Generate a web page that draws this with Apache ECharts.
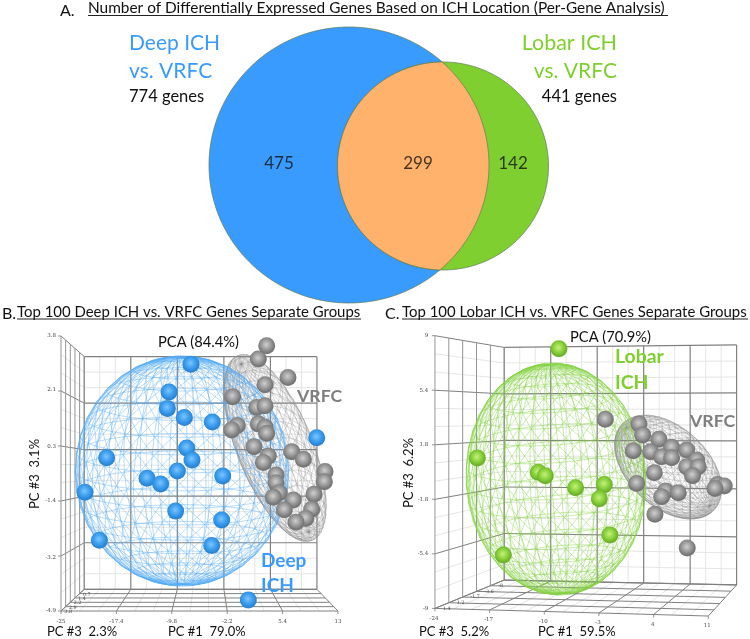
<!DOCTYPE html>
<html><head><meta charset="utf-8">
<style>html,body{margin:0;padding:0;background:#fff}#c{width:750px;height:639px;filter:blur(0.4px)}</style>
<script src="https://cdn.jsdelivr.net/npm/echarts@6/dist/echarts.min.js"></script>
</head><body><div id="c"></div>
<script>
// ---------- data ----------
const vennCounts = ['475', '299', '142'];
const vennCircles = [[149, 145, 140, 138], [243, 146, 105.5, 104]];
const vennCountPositions = [[79, 144], [218, 144], [313, 144]];

const deepXTicks = [-25, -17.4, -9.8, -2.2, 5.4, 13];
const deepYTicks = [-4.9, -3.2, -1.4, 0.3, 2.1, 3.8];
const deepZTicks = ['3.8', '2.9', '2.2', '1.4', '0.7'];
const lobarXTicks = [-24, -17, -10, -3, 4, 11];
const lobarYTicks = [-9, -5.4, -1.8, 1.8, 5.4, 9];
const lobarZTicks = ['1.4', '1.2', '-1.7', '-3.6', '-8'];

const deepIch = [[-7.17,2.91],[-10.18,2.03],[-10.41,1.51],[-8.08,1.22],[-4.24,1.08],[-7.76,0.26],[-7.03,-0.12],[-18.74,-0.05],[-9.04,-0.47],[-2.82,-0.63],[-13.2,-0.7],[-11.33,-0.88],[-21.71,-1.14],[-9.27,-1.74],[-2.96,-2.02],[-19.74,-2.66],[-4.33,-2.83],[0.7,-4.55],[10.08,0.58]];
const deepVrfc = [[3.22,3.49],[2.07,3.07],[6.14,2.49],[2.99,2.26],[-1.45,1.88],[1.84,1.54],[2.99,1.59],[-0.81,0.97],[-1.59,0.83],[2.07,1.02],[2.99,0.91],[3.22,0.72],[1.48,0.3],[6.65,0.14],[8.25,-0.1],[3.44,0],[2.76,-0.2],[11.22,-0.49],[11.13,-0.81],[4.5,-0.6],[4.5,-0.84],[9.71,-1.21],[4.95,-1.16],[4.13,-1.3],[6.87,-1.39],[5.64,-1.7],[9.39,-1.68],[8.57,-1.97],[7.24,-2.09]];
const lobarIch = [[-8.01,8.14],[-18.4,0.93],[-10.64,-0.02],[-9.75,-0.24],[-5.89,-1.03],[-2.24,-0.83],[-2.87,-1.76],[-1.52,-4.16],[-15.09,-5.48]];
const lobarVrfc = [[-2.11,3.48],[2.17,3.17],[2.64,2.44],[4.72,2.16],[1.45,1.41],[3.66,1.34],[6.33,1.63],[8.24,1.45],[5.06,1.01],[6.33,0.95],[9.51,0.79],[8.24,0.35],[9.72,0.35],[9,-0.24],[4.13,-0.04],[1.88,-0.75],[5.57,-1.25],[7.18,-1.36],[5.06,-1.63],[12.18,-0.83],[13.03,-0.92],[11.85,-1.08],[4.21,-2.79],[8.32,-5.01]];

// ellipsoids: centre x, centre y, radius x, radius y (axis units)
const deepEllipsoid = [-8.4, -0.47, 14.68, 3.64];
const deepVrfcEllipsoid = [4.36, 0.26, 5.2, 3.16];
const lobarEllipsoid = [-8.38, -0.46, 11.46, 7.66];
const lobarVrfcEllipsoid = [5.88, 0.33, 5.1, 4.16];

// ---------- text ----------
const F = 'Lato, "Open Sans", sans-serif';
const BLUE = '#3a9bff', GREEN = '#80cf30', GREY = '#7f7f7f', INK = '#111';
// text, x, y, size, colour, align, weight, rotated
const texts = [
  ['A.', 60, 11, 16, INK],
  ['Number of Differentially Expressed Genes Based on ICH Location (Per-Gene Analysis)', 88, 8, 15.4, INK],
  ['Deep ICH', 129, 43, 21, BLUE],
  ['vs. VRFC', 129, 71, 21, BLUE],
  ['774 genes', 129, 97, 16.5, INK],
  ['Lobar ICH', 617, 43, 21.5, GREEN, 'right'],
  ['vs. VRFC', 617, 71, 21, GREEN, 'right'],
  ['441 genes', 617, 97, 16.5, INK, 'right'],
  ['B.', 2, 314, 16, INK],
  ['Top 100 Deep ICH vs. VRFC Genes Separate Groups', 17, 312, 14.95, INK],
  ['C.', 385, 314, 16, INK],
  ['Top 100 Lobar ICH vs. VRFC Genes Separate Groups', 402, 312, 14.95, INK],
  ['PCA (84.4%)', 158, 342, 14.7, INK],
  ['VRFC', 297, 396, 17.7, GREY, 'left', 'bold'],
  ['Deep', 261, 561, 19, BLUE, 'left', 'bold'],
  ['ICH', 261, 586, 19, BLUE, 'left', 'bold'],
  ['PC #3  3.1%', 35, 474, 13, INK, 'center', 'normal', true],
  ['PC #3  2.3%', 47, 632, 13, INK],
  ['PC #1  79.0%', 168, 632, 13, INK],
  ['PCA (70.9%)', 570, 337, 14.7, INK],
  ['Lobar', 615, 357, 19.4, GREEN, 'left', 'bold'],
  ['ICH', 615, 383, 19.4, GREEN, 'left', 'bold'],
  ['VRFC', 690, 421, 17.7, GREY, 'left', 'bold'],
  ['PC #3  6.2%', 409, 473, 13, INK, 'center', 'normal', true],
  ['PC #3  5.2%', 419, 632, 13, INK],
  ['PC #1  59.5%', 538, 632, 13, INK]
];
const underlines = [[88, 668, 15.5], [17, 361, 319], [402, 748, 319]];

// ---------- drawing helpers ----------
const lerp = (a, b, t) => [a[0] + (b[0] - a[0]) * t, a[1] + (b[1] - a[1]) * t];
const deg = Math.PI / 180;

function ellipsePts(e, from, to, n) {
  const out = [];
  for (let i = 0; i <= n; i++) {
    const t = (from + (to - from) * i / n) * deg;
    out.push([e[0] + e[2] * Math.cos(t), e[1] + e[3] * Math.sin(t)]);
  }
  return out;
}
const inside = (p, e) => ((p[0] - e[0]) / e[2]) ** 2 + ((p[1] - e[1]) / e[3]) ** 2 <= 1;

function vennSeries() {
  return {
    type: 'custom', xAxisIndex: 0, yAxisIndex: 0, coordinateSystem: 'cartesian2d', silent: true, z: 3,
    data: [[0, 0]],
    renderItem(p, api) {
      const [blue, green] = vennCircles;
      const toPx = pts => pts.map(q => api.coord(q));
      const lens = ellipsePts(green, 90, 270, 240).filter(q => inside(q, blue))
        .concat(ellipsePts(blue, -180, 180, 480).filter(q => inside(q, green)));
      const poly = (pts, fill) => ({ type: 'polygon', shape: { points: toPx(pts) },
        style: { fill, stroke: '#5f7a55', lineWidth: 0.7 } });
      return { type: 'group', children: [
        poly(ellipsePts(blue, 0, 360, 360), BLUE),
        poly(ellipsePts(green, 0, 360, 360), GREEN),
        poly(lens, '#ffb26b')
      ] };
    }
  };
}

function vennCountSeries() {
  return {
    type: 'scatter', xAxisIndex: 0, yAxisIndex: 0, symbolSize: 0, z: 5, silent: true,
    data: vennCountPositions.map((q, i) => ({ value: q, label: { formatter: vennCounts[i] } })),
    label: { show: true, position: 'inside', color: INK, fontSize: 17, fontFamily: F }
  };
}

function cageSeries(ax, corners, xTicks, yTicks, zTicks, slopedX) {
  return {
    type: 'custom', xAxisIndex: ax, yAxisIndex: ax, coordinateSystem: 'cartesian2d', silent: true, z: 2,
    data: [[0, 0]],
    renderItem(p, api) {
      const xs = xTicks, ys = yTicks;
      const x0 = xs[0], x1 = xs[xs.length - 1], y0 = ys[0], y1 = ys[ys.length - 1];
      const px = f => api.coord([x0 + f[0] * (x1 - x0), y1 - f[1] * (y1 - y0)]);
      const c = {}; for (const k in corners) c[k] = px(corners[k]);
      const FTR = [c.FTL[0] + c.FBR[0] - c.FBL[0], c.FTL[1]];
      const back = (u, v) => lerp(lerp(c.BBL, c.BBR, u), lerp(c.BTL, c.BTR, u), v);
      const front = (u, v) => lerp(lerp(c.FBL, c.FBR, u), lerp(c.FTL, FTR, u), v);
      const P = (u, v, w) => lerp(front(u, v), back(u, v), w);
      const kids = [];
      const seg = (a, b, col, lw) => kids.push({ type: 'line', shape: { x1: a[0], y1: a[1], x2: b[0], y2: b[1] },
        style: { stroke: col, lineWidth: lw } });
      const MINOR = '#e2e2e2', MAJOR = '#808080';
      const N = 5, SUB = 3, D = 5;
      for (let i = 0; i < N * SUB; i++) {
        if (i % SUB === 0) continue;
        const t = i / (N * SUB);
        seg(P(t, 0, 1), P(t, 1, 1), MINOR, 0.9);
        seg(P(0, t, 1), P(1, t, 1), MINOR, 0.9);
        seg(P(0, t, 0), P(0, t, 1), MINOR, 0.9);
        seg(P(t, 0, 0), P(t, 0, 1), MINOR, 0.9);
      }
      for (let i = 0; i <= N; i++) {
        const t = i / N;
        seg(P(t, 0, 1), P(t, 1, 1), MAJOR, 1.2);
        seg(P(0, t, 1), P(1, t, 1), MAJOR, 1.2);
        seg(P(0, t, 0), P(0, t, 1), MAJOR, 1);
        seg(P(t, 0, 0), P(t, 0, 1), MAJOR, 1);
        const a = P(t, 0, 0); seg(a, [a[0], a[1] + 3], '#666', 0.7);
        const b = P(0, t, 0); seg(b, [b[0] - 3, b[1]], '#666', 0.7);
      }
      for (let i = 0; i <= D; i++) {
        const w = i / D;
        seg(P(0, 0, w), P(0, 1, w), '#949494', 1);
        seg(P(0, 0, w), P(1, 0, w), '#808080', 1);
        if (i < D) {
          const q = P(0, 0, w + 0.1);
          kids.push({ type: 'text', x: q[0] + 1, y: q[1] + 3,
            style: { text: zTicks[i], fontSize: 4.8, fill: '#444', fontFamily: 'DejaVu Serif', textAlign: 'left', textVerticalAlign: 'middle' } });
        }
      }
      if (slopedX) {
        xs.forEach((v, i) => {
          const a = P(i / N, 0, 0);
          kids.push({ type: 'text', x: a[0] - 1, y: a[1] + 10,
            style: { text: String(v), fontSize: 5.5, fill: '#444', fontFamily: 'DejaVu Serif', textAlign: 'center', textVerticalAlign: 'middle' } });
        });
      }
      return { type: 'group', children: kids };
    }
  };
}

function meshSeries(ax, ell, rotDeg, tiltX, tiltY, nLat, nLon, colour, lw, z) {
  return {
    type: 'custom', xAxisIndex: ax, yAxisIndex: ax, coordinateSystem: 'cartesian2d', silent: true, z,
    data: [ell],
    renderItem(p, api) {
      const c = api.coord([api.value(0), api.value(1)]);
      const s = api.size([api.value(2), api.value(3)]);
      const cr = Math.cos(rotDeg * deg), sr = Math.sin(rotDeg * deg);
      const ct = Math.cos(tiltX * deg), st = Math.sin(tiltX * deg);
      const cy = Math.cos(tiltY * deg), sy = Math.sin(tiltY * deg);
      const pt = (i, j) => {
        const lat = -90 + 180 * i / nLat, lon = 360 * j / nLon;
        const x0 = Math.cos(lat * deg) * Math.cos(lon * deg);
        const y0 = Math.sin(lat * deg);
        const z0 = Math.cos(lat * deg) * Math.sin(lon * deg);
        const x1 = x0 * cy + z0 * sy, z1 = -x0 * sy + z0 * cy;
        const y2 = y0 * ct - z1 * st;
        const X = x1 * s[0], Y = y2 * s[1];
        return [c[0] + X * cr - Y * sr, c[1] + X * sr + Y * cr];
      };
      const kids = [];
      const add = (a, b) => kids.push({ type: 'line', shape: { x1: a[0], y1: a[1], x2: b[0], y2: b[1] },
        style: { stroke: colour, lineWidth: lw } });
      for (let i = 0; i <= nLat; i++) for (let j = 0; j < nLon; j++) {
        const a = pt(i, j);
        if (i > 0 && i < nLat) add(a, pt(i, j + 1));
        if (i < nLat) {
          add(a, pt(i + 1, j));
          if (i > 0 && i < nLat - 1) add(a, pt(i + 1, j + 1));
        }
      }
      return { type: 'group', children: kids };
    }
  };
}

function ball(light, mid, dark, edge) {
  return { type: 'radial', x: 0.47, y: 0.43, r: 0.58, colorStops: [
    { offset: 0, color: light }, { offset: 0.5, color: mid }, { offset: 0.85, color: dark }, { offset: 1, color: edge } ] };
}
function balls(ax, name, data, colour) {
  return { type: 'scatter', name, xAxisIndex: ax, yAxisIndex: ax, data, symbolSize: 17, clip: false, z: 8, silent: true,
    itemStyle: { color: colour, opacity: 1 } };
}
const BLUEBALL = ball('#7cc6ff', '#3f9ff0', '#2a86d6', '#2f7fc4');
const GREYBALL = ball('#cfcfcf', '#9a9a9a', '#757575', '#7c7c7c');
const GREENBALL = ball('#c8f07c', '#8ad33e', '#6cb22a', '#74ae35');

function valueAxes(grid, xt, yt, showX) {
  const tickFont = { fontSize: 5.5, color: '#444', fontFamily: 'DejaVu Serif' };
  return [{
    type: 'value', gridIndex: grid, min: xt[0], max: xt[xt.length - 1], splitLine: { show: false },
    axisLine: { show: false }, axisTick: { show: false },
    axisLabel: { show: showX, customValues: xt, margin: 8, ...tickFont }
  }, {
    type: 'value', gridIndex: grid, min: yt[0], max: yt[yt.length - 1], splitLine: { show: false },
    axisLine: { show: false }, axisTick: { show: false },
    axisLabel: { customValues: yt, margin: 5, ...tickFont }
  }];
}
const a1 = valueAxes(1, deepXTicks, deepYTicks, true);
const a2 = valueAxes(2, lobarXTicks, lobarYTicks, false);

const graphic = texts.map(t => ({
  type: 'text', z: 100, silent: true, x: t[1], y: t[2], rotation: t[7] ? Math.PI / 2 : 0,
  style: { text: t[0], fontFamily: F, fontSize: t[3], fill: t[4], textAlign: t[5] || 'left',
    fontWeight: t[6] || 'normal', textVerticalAlign: 'middle' }
})).concat(underlines.map(u => ({
  type: 'line', z: 100, silent: true, shape: { x1: u[0], y1: u[2], x2: u[1], y2: u[2] }, style: { stroke: '#222', lineWidth: 1 }
})));

const deepCage = { FBL: [0, 1], FBR: [1, 1], FTL: [0, 0], BBL: [0.084, 0.921], BBR: [0.924, 0.921], BTL: [0.084, 0.075], BTR: [0.924, 0.075] };
const lobarCage = { FBL: [0.006, 1], FBR: [1, 1.028], FTL: [0.006, 0], BBL: [0.258, 0.896], BBR: [1.103, 0.914], BTL: [0.258, 0.043], BTR: [1.103, 0.034] };

const chart = echarts.init(document.getElementById('c'), null, { renderer: 'canvas' });
chart.setOption({
  animation: false,
  backgroundColor: '#fff',
  grid: [
    { left: 200, top: 20, width: 360, height: 290 },
    { left: 61, top: 336, width: 277, height: 275 },
    { left: 433.3, top: 335.7, width: 275, height: 272.7 }
  ],
  xAxis: [{ type: 'value', gridIndex: 0, min: 0, max: 360, show: false }, a1[0], a2[0]],
  yAxis: [{ type: 'value', gridIndex: 0, min: 0, max: 290, inverse: true, show: false }, a1[1], a2[1]],
  graphic,
  series: [
    vennSeries(), vennCountSeries(),
    cageSeries(1, deepCage, deepXTicks, deepYTicks, deepZTicks, false),
    meshSeries(1, deepVrfcEllipsoid, -22, 25, 15, 18, 28, 'rgba(140,140,140,0.7)', 0.45, 4),
    meshSeries(1, deepEllipsoid, 0, 10, 7, 20, 36, 'rgba(85,170,245,0.7)', 0.6, 5),
    balls(1, 'Deep ICH', deepIch, BLUEBALL),
    balls(1, 'VRFC', deepVrfc, GREYBALL),
    cageSeries(2, lobarCage, lobarXTicks, lobarYTicks, lobarZTicks, true),
    meshSeries(2, lobarVrfcEllipsoid, -47, 25, 15, 20, 32, 'rgba(140,140,140,0.7)', 0.45, 4),
    meshSeries(2, lobarEllipsoid, -4, 10, 7, 20, 36, 'rgba(135,210,70,0.75)', 0.6, 5),
    balls(2, 'Lobar ICH', lobarIch, GREENBALL),
    balls(2, 'VRFC', lobarVrfc, GREYBALL)
  ]
});
</script></body></html>
